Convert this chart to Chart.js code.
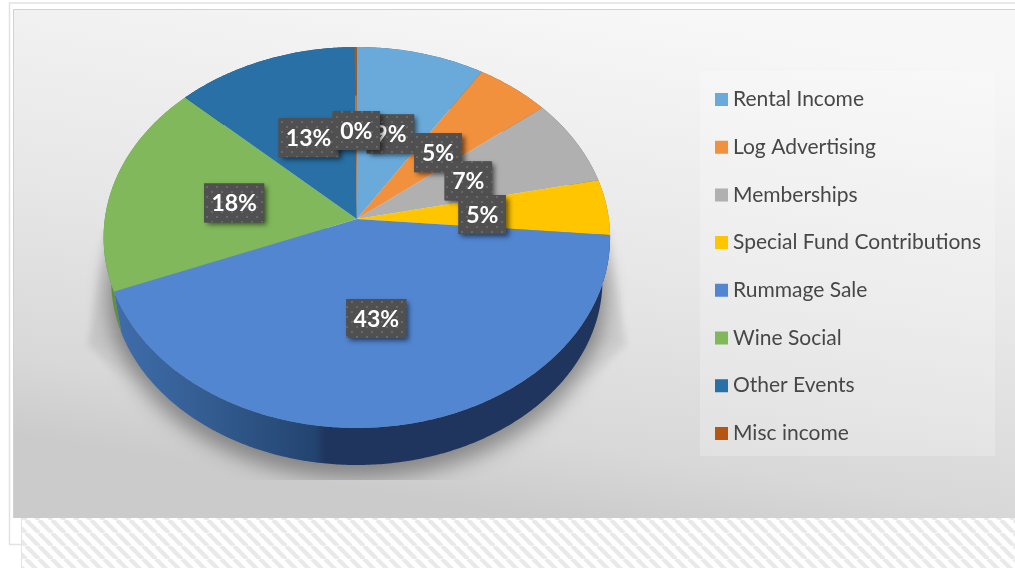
<!DOCTYPE html>
<html><head><meta charset="utf-8">
<style>html,body{margin:0;padding:0;background:#fff}canvas{display:block}</style>
<script src="https://cdn.jsdelivr.net/npm/chart.js@4"></script>
</head><body><canvas id="c" width="1015" height="568"></canvas>
<script>
const categories = ["Rental Income","Log Advertising","Memberships","Special Fund Contributions","Rummage Sale","Wine Social","Other Events","Misc income"];
const shares = [9.0,5.25,7.4,4.7,42.6,18.1,12.8,0.15];
const colors = ["#6aaadb","#f2913d","#b0b0b0","#ffc600","#5286d1","#80b85b","#2870a5","#b4560f"];
const wallColors = ["#3f6b8a","#96592a","#6c6c6c","#9c7a00","#20355e","#5f8f3f","#1a4a6e","#6e3409"];

// perspective of the tilted disc
const KX = 1.3265, KY = 0.993, PC = -0.0971, WALL_S = 0.97, WALL_D = 43.3, LABEL_F = 0.5;
function rim(el, a, f){
  const u = f*Math.cos(a), v = f*Math.sin(a), d = 1+PC*v, R = el.outerRadius;
  return [el.x + R*KX*u/d, el.y + R*KY*v/d];
}
function rimPts(el){
  const pts=[], n=Math.max(2,Math.ceil((el.endAngle-el.startAngle)/0.01));
  for(let i=0;i<=n;i++) pts.push(rim(el, el.startAngle+(el.endAngle-el.startAngle)*i/n, 1));
  return pts;
}
Chart.ArcElement.prototype.draw = function(ctx){
  const pts = rimPts(this);
  ctx.save();
  ctx.beginPath(); ctx.moveTo(this.x,this.y);
  pts.forEach(p=>ctx.lineTo(p[0],p[1]));
  ctx.closePath();
  ctx.fillStyle = this.options.backgroundColor;
  ctx.fill();
  ctx.restore();
};
function dotPattern(ctx){
  const t=document.createElement('canvas'); t.width=t.height=10;
  const g=t.getContext('2d'); g.fillStyle='#505050'; g.fillRect(0,0,10,10);
  g.fillStyle='#686868'; g.fillRect(1,1,2,2); g.fillRect(6,6,2,2);
  return ctx.createPattern(t,'repeat');
}
function hatchPattern(ctx){
  const p=13,t=document.createElement('canvas'); t.width=t.height=p;
  const g=t.getContext('2d'); g.fillStyle='#fff'; g.fillRect(0,0,p,p);
  g.strokeStyle='#e9e9e9'; g.lineWidth=4.4;
  [[-p,0],[0,0],[p,0]].forEach(o=>{g.beginPath();g.moveTo(o[0],0);g.lineTo(o[0]+p,p);g.stroke();});
  return ctx.createPattern(t,'repeat');
}
const backdrop = {
  id:'backdrop',
  afterLayout(chart){
    const l = chart.legend, pad = chart.options.plugins.legend.labels.padding;
    l.left = 720.5 - pad; l.top = 89 - pad; l.bottom = 568;
  },
  beforeDraw(chart){
    const ctx = chart.ctx;
    ctx.save();
    ctx.fillStyle='#fff'; ctx.fillRect(0,0,1015,568);
    ctx.strokeStyle='#e2e2e2'; ctx.lineWidth=1.5;
    ctx.strokeRect(9.5,3,1010,541.5);
    ctx.fillStyle=hatchPattern(ctx); ctx.fillRect(21,518,994,50);
    ctx.fillStyle='#e4e4e4'; ctx.fillRect(21,518,1,50);
    const g=ctx.createLinearGradient(620,9,540,518);
    g.addColorStop(0,'#f7f7f7'); g.addColorStop(.5,'#e7e7e7'); g.addColorStop(.85,'#d8d8d8'); g.addColorStop(1,'#cbcbcb');
    ctx.fillStyle=g; ctx.fillRect(13,9,1002,509);
    ctx.strokeStyle='#d2d2d2'; ctx.lineWidth=1;
    ctx.beginPath(); ctx.moveTo(13.5,518); ctx.lineTo(13.5,9.5); ctx.lineTo(1015,9.5); ctx.stroke();
    ctx.fillStyle='rgba(255,255,255,.22)'; ctx.fillRect(700,71,295,385);
    ctx.restore();
  },
  beforeDatasetsDraw(chart){
    const ctx = chart.ctx, els = chart.getDatasetMeta(0).data, c = els[0];
    ctx.save();
    // cast shadow
    ctx.save();
    ctx.beginPath(); ctx.rect(13,228,1002,252); ctx.clip();
    ctx.save();
    ctx.filter='blur(3px)';
    const wg=ctx.createLinearGradient(0,232,0,385);
    wg.addColorStop(0,'rgba(0,0,0,.05)'); wg.addColorStop(.7,'rgba(0,0,0,.09)'); wg.addColorStop(1,'rgba(0,0,0,0)');
    ctx.fillStyle=wg;
    ctx.beginPath();
    ctx.moveTo(c.x-252,232); ctx.lineTo(c.x-269,345); ctx.lineTo(c.x-230,385);
    ctx.lineTo(c.x+230,385); ctx.lineTo(c.x+269,345); ctx.lineTo(c.x+252,232);
    ctx.closePath(); ctx.fill();
    ctx.restore();
    ctx.filter='blur(10px)';
    ctx.fillStyle='rgba(0,0,0,.36)';
    ctx.beginPath(); ctx.ellipse(c.x,293,249,185,0,0,Math.PI*2); ctx.fill();
    ctx.restore();
    // side wall
    els.forEach((el,i)=>{
      const pts = rimPts(el);
      ctx.beginPath();
      pts.forEach((p,k)=>k?ctx.lineTo(p[0],p[1]):ctx.moveTo(p[0],p[1]));
      pts.slice().reverse().forEach(p=>ctx.lineTo(el.x+WALL_S*(p[0]-el.x), el.y+WALL_S*(p[1]-el.y)+WALL_D));
      ctx.closePath();
      let fill = wallColors[i];
      if(i===4){
        const g=ctx.createLinearGradient(116,0,325,0);
        g.addColorStop(0,'#3f6dab'); g.addColorStop(.45,'#335c90'); g.addColorStop(.95,'#234470'); g.addColorStop(1,wallColors[i]);
        fill=g;
      }
      ctx.fillStyle=fill; ctx.fill();
    });
    ctx.restore();
  },
  afterDatasetsDraw(chart){
    const ctx = chart.ctx, meta = chart.getDatasetMeta(0), vals = chart.data.datasets[0].data;
    const total = vals.reduce((a,b)=>a+b,0), pat = dotPattern(ctx);
    ctx.save();
    ctx.font='bold 23px Lato'; ctx.textAlign='center'; ctx.textBaseline='middle';
    meta.data.forEach((el,i)=>{
      const [x,y0]=rim(el,(el.startAngle+el.endAngle)/2,LABEL_F), y=y0+1.5;
      const txt=Math.round(vals[i]/total*100)+'%';
      const w=txt.length>2?60:47.5, h=39;
      ctx.save();
      ctx.shadowColor='rgba(0,0,0,.55)'; ctx.shadowBlur=5; ctx.shadowOffsetX=3; ctx.shadowOffsetY=3;
      ctx.fillStyle='#505050'; ctx.fillRect(x-w/2,y-h/2,w,h);
      ctx.restore();
      ctx.fillStyle=pat; ctx.fillRect(x-w/2,y-h/2,w,h);
      ctx.fillStyle='#fff'; ctx.fillText(txt,x,y+1);
    });
    ctx.restore();
  }
};
new Chart(document.getElementById('c'),{
  type:'pie',
  data:{labels:categories,datasets:[{data:shares,backgroundColor:colors,borderWidth:0,radius:190}]},
  options:{
    responsive:false,animation:false,
    layout:{padding:{left:17,right:21,top:0,bottom:130}},
    plugins:{
      tooltip:{enabled:false},
      legend:{position:'right',align:'start',
        labels:{
          color:'#474747',font:{family:'Lato',size:21},padding:26.7,boxWidth:2,boxHeight:2,
          generateLabels(chart){
            return Chart.overrides.pie.plugins.legend.labels.generateLabels(chart).map(l=>
              Object.assign(l,{strokeStyle:l.fillStyle,lineWidth:11,lineJoin:'miter'}));
          }
        }}
    }
  },
  plugins:[backdrop]
});
</script></body></html>
